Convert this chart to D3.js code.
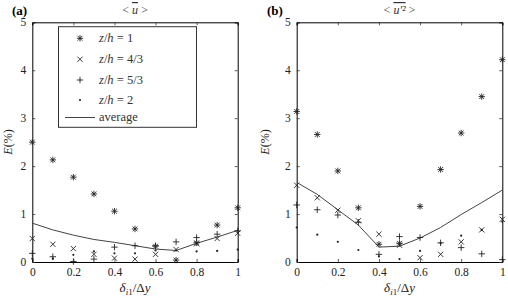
<!DOCTYPE html>
<html>
<head>
<meta charset="utf-8">
<script src="https://cdn.jsdelivr.net/npm/d3@7"></script>
<style>
  body { margin: 0; background: #fff; }
  svg text { font-family: "Liberation Serif", "DejaVu Serif", serif; }
</style>
</head>
<body>
<svg id="chart" width="508" height="298"></svg>
<script>
// ── Datos ────────────────────────────────────────────────────────
const delta = [0, 0.1, 0.2, 0.3, 0.4, 0.5, 0.6, 0.7, 0.8, 0.9, 1];
const xTicks = [0, 0.2, 0.4, 0.6, 0.8, 1];
const yTicks = [0, 1, 2, 3, 4, 5];

// (a) <u>
const aZ1  = [2.50, 2.13, 1.77, 1.42, 1.06, 0.69, 0.33, 0.04, 0.40, 0.77, 1.13];
const aZ43 = [0.49, 0.37, 0.28, 0.16, 0.08, 0.06, 0.16, 0.26, 0.38, 0.49, 0.60];
const aZ53 = [0.18, 0.11, 0.01, 0.06, 0.31, 0.34, 0.34, 0.42, 0.51, 0.58, 0.65];
const aZ2  = [0.07, 0.07, 0.15, 0.22, 0.18, 0.18, 0.24, 0.24, 0.22, 0.23, 0.26];
const aAvg = [0.81, 0.67, 0.56, 0.47, 0.41, 0.34, 0.27, 0.24, 0.39, 0.52, 0.66];

// (b) <u'^2>
const bZ1  = [3.14, 2.66, 1.90, 1.13, 0.37, 0.39, 1.16, 1.93, 2.69, 3.45, 4.22];
const bZ43 = [1.60, 1.34, 1.08, 0.86, 0.58, 0.35, 0.09, 0.16, 0.42, 0.67, 0.89];
const bZ53 = [1.19, 1.09, 0.98, 0.83, 0.16, 0.53, 0.51, 0.40, 0.30, 0.17, 0.05];
const bZ2  = [0.72, 0.57, 0.42, 0.25, 0.12, 0.06, 0.23, 0.39, 0.55, 0.67, 0.84];
const bAvg = [1.66, 1.41, 1.09, 0.77, 0.31, 0.33, 0.50, 0.72, 0.99, 1.24, 1.50];

const legendLabels = ["z/h = 1", "z/h = 4/3", "z/h = 5/3", "z/h = 2"];

// ── Marcadores ───────────────────────────────────────────────────
const INK = "#222";
const FONT = "Liberation Serif, DejaVu Serif, serif";
function drawMarker(g, type, x, y) {
  const s = 3.2;
  if (type === "star" || type === "plus") {
    g.append("path").attr("d", `M${x-s},${y}H${x+s}M${x},${y-s}V${y+s}`)
      .attr("stroke", INK).attr("stroke-width", 0.9).attr("fill", "none");
  }
  if (type === "star" || type === "cross") {
    const c = type === "star" ? s * 0.75 : 2.6;
    g.append("path").attr("d", `M${x-c},${y-c}L${x+c},${y+c}M${x-c},${y+c}L${x+c},${y-c}`)
      .attr("stroke", INK).attr("stroke-width", 0.9).attr("fill", "none");
  }
  if (type === "dot") {
    g.append("circle").attr("cx", x).attr("cy", y).attr("r", 1.1).attr("fill", INK);
  }
}
const types = ["star", "cross", "plus", "dot"];

const svg = d3.select("#chart");

// ── Panel ────────────────────────────────────────────────────────
function panel(opts) {
  const { x0, x1, series, avg, tag, tagX, title, ylabX } = opts;
  const y0 = 262, y1 = 22.3;
  const x = d3.scaleLinear().domain([0, 1]).range([x0, x1]);
  const y = d3.scaleLinear().domain([0, 5]).range([y0, y1]);
  const g = svg.append("g");

  // ejes (ticks hacia dentro, cuatro lados)
  g.append("g").attr("transform", `translate(0,${y0})`)
    .call(d3.axisBottom(x).tickValues(xTicks).tickSize(-3).tickPadding(6)
      .tickFormat(d => d === 0 || d === 1 ? d3.format("d")(d) : d3.format(".1f")(d)));
  g.append("g").attr("transform", `translate(0,${y1})`)
    .call(d3.axisTop(x).tickValues(xTicks).tickSize(-3).tickFormat(""));
  g.append("g").attr("transform", `translate(${x0},0)`)
    .call(d3.axisLeft(y).tickValues(yTicks).tickSize(-3).tickPadding(6).tickFormat(d3.format("d")));
  g.append("g").attr("transform", `translate(${x1},0)`)
    .call(d3.axisRight(y).tickValues(yTicks).tickSize(-3).tickFormat(""));
  g.selectAll(".domain").attr("stroke", "#000").attr("stroke-width", 1);
  g.selectAll(".tick line").attr("stroke", "#333").attr("stroke-width", 0.8);
  g.selectAll(".tick text").attr("font-size", 11.5).attr("fill", "#222")
    .attr("font-family", FONT);

  // línea promedio
  g.append("path").datum(avg)
    .attr("d", d3.line().x((d, i) => x(delta[i])).y(d => y(d)))
    .attr("fill", "none").attr("stroke", "#444").attr("stroke-width", 1);

  // puntos
  series.forEach((vals, k) => {
    vals.forEach((v, i) => drawMarker(g, types[k], x(delta[i]), y(v)));
  });

  // textos
  svg.append("text").attr("x", tagX).attr("y", 15).attr("font-family", FONT)
    .attr("font-weight", "bold").attr("font-size", 13).text(tag);
  const t = svg.append("text").attr("x", (x0 + x1) / 2).attr("y", 14).attr("font-family", FONT)
    .attr("text-anchor", "middle").attr("font-size", 12).attr("fill", "#333");
  title(t);

  svg.append("text").attr("transform", `translate(${ylabX},142) rotate(-90)`)
    .attr("font-family", FONT)
    .attr("text-anchor", "middle").attr("font-size", 12).attr("fill", "#222")
    .html('<tspan font-style="italic">E</tspan>(%)');

  const xl = svg.append("text").attr("x", (x0 + x1) / 2).attr("y", 292).attr("font-family", FONT)
    .attr("text-anchor", "middle").attr("font-size", 13).attr("fill", "#222");
  xl.append("tspan").attr("font-style", "italic").text("δ");
  xl.append("tspan").attr("font-size", 9).attr("dy", 3).attr("font-style", "italic").text("i");
  xl.append("tspan").attr("font-size", 9).text("1");
  xl.append("tspan").attr("dy", -3).text("/Δ");
  xl.append("tspan").attr("font-style", "italic").text("y");
  return { x, y, g };
}

panel({
  x0: 32.3, x1: 237.7, series: [aZ1, aZ43, aZ53, aZ2], avg: aAvg,
  tag: "(a)", tagX: 12, ylabX: 12,
  title: t => {
    t.append("tspan").text("< ");
    t.append("tspan").attr("font-style", "italic").attr("text-decoration", "overline").text("u");
    t.append("tspan").text(" >");
  }
});

panel({
  x0: 296.7, x1: 502.3, series: [bZ1, bZ43, bZ53, bZ2], avg: bAvg,
  tag: "(b)", tagX: 267, ylabX: 269,
  title: t => {
    t.append("tspan").text("< ");
    t.append("tspan").attr("font-style", "italic").attr("text-decoration", "overline").text("u′²");
    t.append("tspan").text(" >");
  }
});

// ── Leyenda ──────────────────────────────────────────────────────
const lg = svg.append("g");
lg.append("rect").attr("x", 58.5).attr("y", 26.7).attr("width", 138).attr("height", 100.6)
  .attr("fill", "#fff").attr("stroke", "#333").attr("stroke-width", 1);
const rowY = [38.3, 59.3, 80, 100];
legendLabels.forEach((lab, k) => {
  drawMarker(lg, types[k], 80, rowY[k]);
  const [l, r] = lab.split(" = ");
  const [zz, hh] = l.split("/");
  const t = lg.append("text").attr("x", 99).attr("y", rowY[k] + 4).attr("font-family", FONT)
    .attr("font-size", 12.5).attr("fill", "#333");
  t.append("tspan").attr("font-style", "italic").text(zz);
  t.append("tspan").text("/");
  t.append("tspan").attr("font-style", "italic").text(hh);
  t.append("tspan").text(" = " + r);
});
lg.append("line").attr("x1", 65).attr("x2", 95).attr("y1", 117.5).attr("y2", 117.5)
  .attr("stroke", "#444").attr("stroke-width", 1);
lg.append("text").attr("x", 99).attr("y", 120.5).attr("font-family", FONT)
  .attr("font-size", 12.5).attr("fill", "#333").text("average");
</script>
</body>
</html>
